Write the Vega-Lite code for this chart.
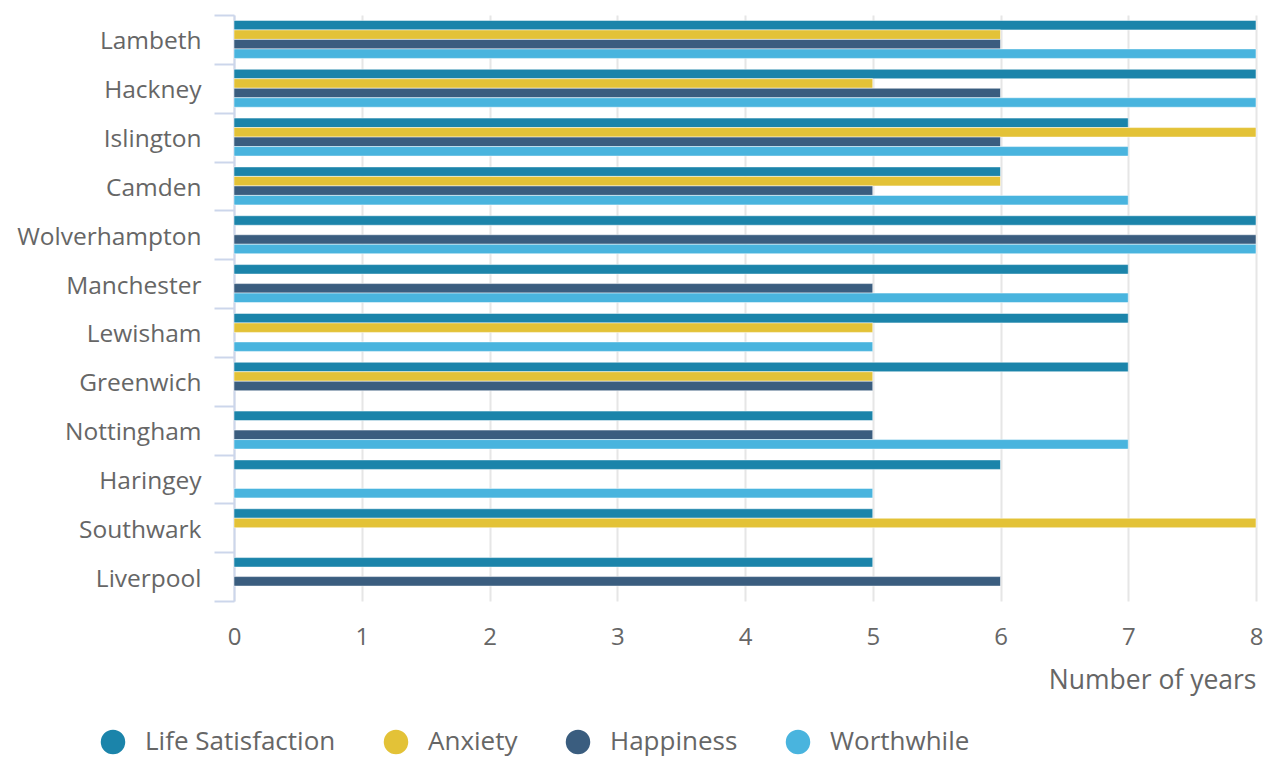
{
  "$schema": "https://vega.github.io/schema/vega-lite/v6.json",
  "autosize": {"type": "none"},
  "width": 1022,
  "height": 586,
  "padding": {"left": 234, "top": 15, "right": 9, "bottom": 157},
  "config": {
    "font": "Open Sans",
    "view": {"stroke": null},
    "axis": {"labelFont": "Open Sans", "titleFont": "Open Sans"}
  },
  "data": {
    "values": [
      {"borough": "Lambeth", "measure": "Life Satisfaction", "years": 8},
      {"borough": "Lambeth", "measure": "Anxiety", "years": 6},
      {"borough": "Lambeth", "measure": "Happiness", "years": 6},
      {"borough": "Lambeth", "measure": "Worthwhile", "years": 8},
      {"borough": "Hackney", "measure": "Life Satisfaction", "years": 8},
      {"borough": "Hackney", "measure": "Anxiety", "years": 5},
      {"borough": "Hackney", "measure": "Happiness", "years": 6},
      {"borough": "Hackney", "measure": "Worthwhile", "years": 8},
      {"borough": "Islington", "measure": "Life Satisfaction", "years": 7},
      {"borough": "Islington", "measure": "Anxiety", "years": 8},
      {"borough": "Islington", "measure": "Happiness", "years": 6},
      {"borough": "Islington", "measure": "Worthwhile", "years": 7},
      {"borough": "Camden", "measure": "Life Satisfaction", "years": 6},
      {"borough": "Camden", "measure": "Anxiety", "years": 6},
      {"borough": "Camden", "measure": "Happiness", "years": 5},
      {"borough": "Camden", "measure": "Worthwhile", "years": 7},
      {"borough": "Wolverhampton", "measure": "Life Satisfaction", "years": 8},
      {"borough": "Wolverhampton", "measure": "Happiness", "years": 8},
      {"borough": "Wolverhampton", "measure": "Worthwhile", "years": 8},
      {"borough": "Manchester", "measure": "Life Satisfaction", "years": 7},
      {"borough": "Manchester", "measure": "Happiness", "years": 5},
      {"borough": "Manchester", "measure": "Worthwhile", "years": 7},
      {"borough": "Lewisham", "measure": "Life Satisfaction", "years": 7},
      {"borough": "Lewisham", "measure": "Anxiety", "years": 5},
      {"borough": "Lewisham", "measure": "Worthwhile", "years": 5},
      {"borough": "Greenwich", "measure": "Life Satisfaction", "years": 7},
      {"borough": "Greenwich", "measure": "Anxiety", "years": 5},
      {"borough": "Greenwich", "measure": "Happiness", "years": 5},
      {"borough": "Nottingham", "measure": "Life Satisfaction", "years": 5},
      {"borough": "Nottingham", "measure": "Happiness", "years": 5},
      {"borough": "Nottingham", "measure": "Worthwhile", "years": 7},
      {"borough": "Haringey", "measure": "Life Satisfaction", "years": 6},
      {"borough": "Haringey", "measure": "Worthwhile", "years": 5},
      {"borough": "Southwark", "measure": "Life Satisfaction", "years": 5},
      {"borough": "Southwark", "measure": "Anxiety", "years": 8},
      {"borough": "Liverpool", "measure": "Life Satisfaction", "years": 5},
      {"borough": "Liverpool", "measure": "Happiness", "years": 6}
    ]
  },
  "mark": {"type": "bar", "stroke": "#ffffff", "strokeWidth": 0.5},
  "encoding": {
    "y": {
      "field": "borough",
      "type": "nominal",
      "sort": ["Lambeth", "Hackney", "Islington", "Camden", "Wolverhampton", "Manchester", "Lewisham", "Greenwich", "Nottingham", "Haringey", "Southwark", "Liverpool"],
      "scale": {"paddingInner": 0, "paddingOuter": 0},
      "axis": {
        "title": null,
        "tickBand": "extent",
        "domainColor": "#ccd6eb",
        "domainWidth": 2,
        "tickColor": "#ccd6eb",
        "tickWidth": 2,
        "tickSize": 20,
        "labelPadding": 13,
        "labelFontSize": 24.5,
        "labelColor": "#666666",
        "labelOffset": 2.5,
        "labelLimit": 0,
        "grid": false
      }
    },
    "yOffset": {
      "field": "measure",
      "type": "nominal",
      "scale": {"domain": ["Life Satisfaction", "Anxiety", "Happiness", "Worthwhile"], "paddingInner": 0, "paddingOuter": 0.57}
    },
    "x": {
      "field": "years",
      "type": "quantitative",
      "scale": {"domain": [0, 8], "nice": false},
      "axis": {
        "title": "Number of years",
        "titleAnchor": "end",
        "titleFontSize": 26.5,
        "titleFontWeight": "normal",
        "titleColor": "#666666",
        "titlePadding": 18,
        "values": [0, 1, 2, 3, 4, 5, 6, 7, 8],
        "domain": false,
        "ticks": false,
        "labelPadding": 24,
        "labelFontSize": 24,
        "labelColor": "#666666",
        "labelFlush": false,
        "grid": true,
        "gridColor": "#e6e6e6",
        "gridWidth": 2
      }
    },
    "color": {
      "field": "measure",
      "type": "nominal",
      "scale": {
        "domain": ["Life Satisfaction", "Anxiety", "Happiness", "Worthwhile"],
        "range": ["#1b84aa", "#e3c237", "#3a5d7f", "#49b4de"]
      },
      "legend": {
        "title": null,
        "orient": "none",
        "direction": "horizontal",
        "legendX": -134,
        "legendY": 714,
        "padding": 0,
        "symbolType": "circle",
        "symbolSize": 600,
        "symbolStrokeWidth": 0,
        "symbolOpacity": 1,
        "labelFontSize": 26,
        "labelColor": "#666666",
        "labelOffset": 19,
        "labelLimit": 0,
        "columnPadding": 47,
        "labelFont": "Open Sans"
      }
    }
  }
}
